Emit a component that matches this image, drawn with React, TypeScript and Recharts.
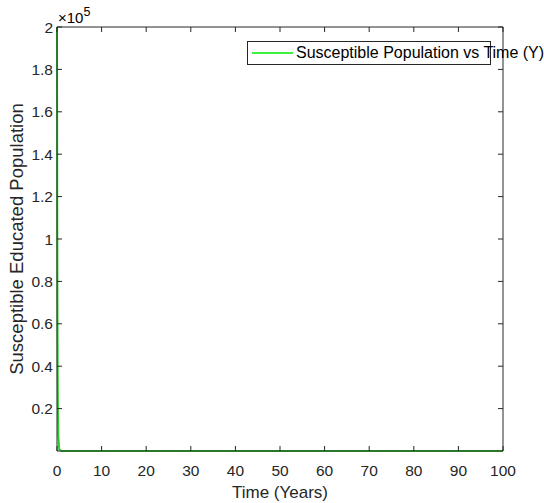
import { LineChart, Line, XAxis, YAxis, Legend, Label } from "recharts";

// time in years and susceptible educated population
const years = [0, 0.05, 0.1, 0.15, 0.2, 0.3, 0.5, 1, 2, 5, 10, 20, 30, 40, 50, 60, 70, 80, 90, 100];
const susceptible = [200000, 120000, 70000, 40000, 22000, 7000, 800, 20, 0, 0, 0, 0, 0, 0, 0, 0, 0, 0, 0, 0];
const xTicks = [0, 10, 20, 30, 40, 50, 60, 70, 80, 90, 100];
const yTicks = [20000, 40000, 60000, 80000, 100000, 120000, 140000, 160000, 180000, 200000];

const data = years.map((t, i) => ({ t, s: susceptible[i] }));

const AXIS = "#262626";
const FONT = "'Liberation Sans', Arial, sans-serif";
const TICK_LEN = 5;

function BottomTick({ x, y, payload }: any) {
  return (
    <g>
      <line x1={x} y1={y} x2={x} y2={y - TICK_LEN} stroke={AXIS} />
      <text x={x} y={y + 25} textAnchor="middle" fill={AXIS} fontSize={15.5} fontFamily={FONT}>
        {payload.value}
      </text>
    </g>
  );
}

function TopTick({ x, y }: any) {
  return <line x1={x} y1={y} x2={x} y2={y + TICK_LEN} stroke={AXIS} />;
}

function LeftTick({ x, y, payload }: any) {
  return (
    <g>
      <line x1={x} y1={y} x2={x + TICK_LEN} y2={y} stroke={AXIS} />
      <text x={x - 4} y={y + 5.5} textAnchor="end" fill={AXIS} fontSize={15.5} fontFamily={FONT}>
        {String(payload.value / 100000)}
      </text>
    </g>
  );
}

function RightTick({ x, y }: any) {
  return <line x1={x} y1={y} x2={x - TICK_LEN} y2={y} stroke={AXIS} />;
}

function LegendBox() {
  return (
    <div
      style={{
        width: 242,
        height: 22,
        border: `1px solid ${AXIS}`,
        background: "#fff",
        position: "relative",
        overflow: "visible",
        fontFamily: FONT,
      }}
    >
      <svg width={50} height={22} style={{ position: "absolute", left: 0, top: 0 }}>
        <line x1={4} y1={11} x2={45} y2={11} stroke="#00ee00" strokeWidth={1.5} />
      </svg>
      <span
        style={{
          position: "absolute",
          left: 48,
          top: 1,
          fontSize: 16,
          lineHeight: "20px",
          whiteSpace: "nowrap",
          color: "#000",
        }}
      >
        Susceptible Population vs Time (Y)
      </span>
    </div>
  );
}

export default function App() {
  return (
    <div style={{ position: "absolute", left: 0, top: 0, width: 544, height: 503, background: "#fff" }}>
      <LineChart width={544} height={503} data={data} margin={{ top: 26, right: 40, bottom: 0, left: 0 }}>
        <XAxis
          xAxisId="bottom"
          dataKey="t"
          type="number"
          domain={[0, 100]}
          ticks={xTicks}
          height={52}
          tickSize={0}
          tickMargin={0}
          tickLine={false}
          axisLine={{ stroke: AXIS }}
          tick={<BottomTick />}
        >
          <Label
            content={({ viewBox }: any) => (
              <text
                x={viewBox.x + viewBox.width / 2}
                y={viewBox.y + 47}
                textAnchor="middle"
                fill={AXIS}
                fontSize={17}
                fontFamily={FONT}
              >
                Time (Years)
              </text>
            )}
          />
        </XAxis>
        <XAxis
          xAxisId="top"
          orientation="top"
          dataKey="t"
          type="number"
          domain={[0, 100]}
          ticks={xTicks}
          height={1}
          tickSize={0}
          tickMargin={0}
          tickLine={false}
          axisLine={{ stroke: AXIS }}
          tick={<TopTick />}
        />
        <YAxis
          yAxisId="left"
          type="number"
          domain={[0, 200000]}
          ticks={yTicks}
          width={57}
          tickSize={0}
          tickMargin={0}
          tickLine={false}
          axisLine={{ stroke: AXIS }}
          tick={<LeftTick />}
        >
          <Label
            content={({ viewBox }: any) => {
              const cx = 23;
              const cy = viewBox.y + viewBox.height / 2;
              return (
                <g>
                  <text
                    x={cx}
                    y={cy}
                    transform={`rotate(-90, ${cx}, ${cy})`}
                    textAnchor="middle"
                    fill={AXIS}
                    fontSize={18.5}
                    fontFamily={FONT}
                  >
                    Susceptible Educated Population
                  </text>
                  <text x={viewBox.x + viewBox.width + 1} y={viewBox.y - 4} fill="#000" fontSize={15} fontFamily={FONT}>
                    ×10
                    <tspan dy={-7} fontSize={12.5}>
                      5
                    </tspan>
                  </text>
                </g>
              );
            }}
          />
        </YAxis>
        <YAxis
          yAxisId="right"
          orientation="right"
          type="number"
          domain={[0, 200000]}
          ticks={yTicks}
          width={1}
          tickSize={0}
          tickMargin={0}
          tickLine={false}
          axisLine={{ stroke: AXIS }}
          tick={<RightTick />}
        />
        <Legend
          layout="vertical"
          align="center"
          verticalAlign="middle"
          wrapperStyle={{ left: 247, top: 41, width: "auto" }}
          content={() => <LegendBox />}
        />
        {/* same series on the mirrored axes so their ticks get drawn */}
        <Line
          xAxisId="top"
          yAxisId="right"
          type="linear"
          dataKey="s"
          stroke="none"
          legendType="none"
          dot={false}
          activeDot={false}
          isAnimationActive={false}
        />
        <Line
          xAxisId="bottom"
          yAxisId="left"
          type="linear"
          dataKey="s"
          name="Susceptible Population vs Time (Y)"
          stroke="#2ecc2e"
          strokeWidth={2}
          dot={false}
          isAnimationActive={false}
        />
      </LineChart>
    </div>
  );
}
